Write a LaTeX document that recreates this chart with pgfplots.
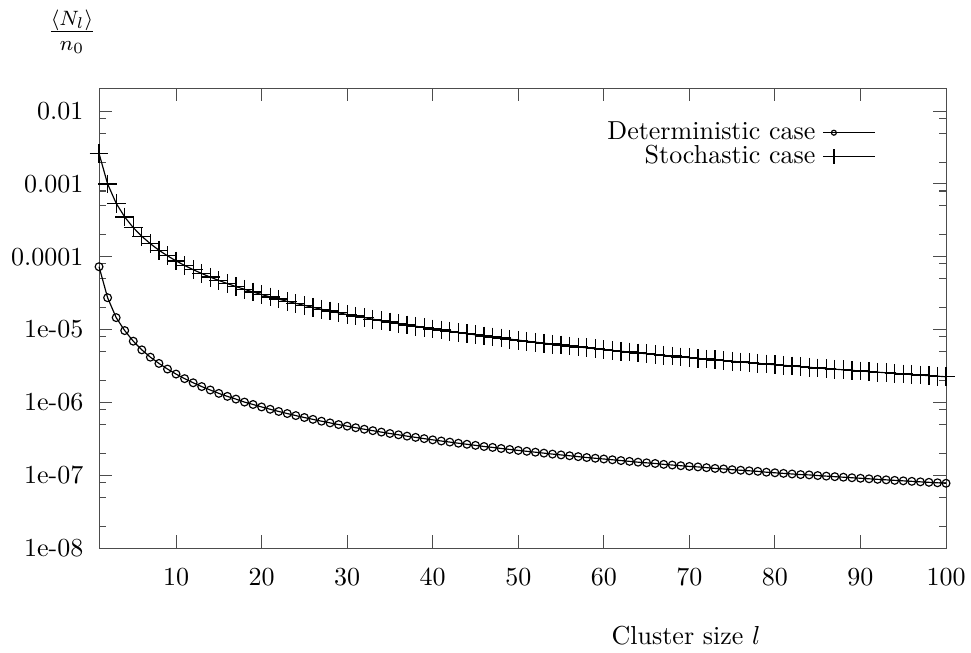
\documentclass[border=0pt]{standalone}
\usepackage{pgfplots}
\usepackage{pgfplotstable}
\pgfplotsset{compat=1.18}
\pgfplotsset{
  detleg/.style={legend image code/.code={\draw[##1,mark indices={2},mark size=0.95pt] plot coordinates {(0pt,0pt) (4pt,0pt) (20pt,0pt)};}},
  stoleg/.style={legend image code/.code={\draw[##1,mark indices={2},mark size=2.9pt] plot coordinates {(0pt,0pt) (4pt,0pt) (20pt,0pt)};}},
}
\pgfplotstableread{
l det sto
1 7.30e-5 2.62e-3
2 2.74e-5 1.00e-3
3 1.46e-5 5.43e-4
4 9.69e-6 3.52e-4
5 6.93e-6 2.51e-4
6 5.27e-6 1.91e-4
7 4.18e-6 1.51e-4
8 3.43e-6 1.23e-4
9 2.87e-6 1.03e-4
10 2.45e-6 8.78e-5
11 2.12e-6 7.60e-5
12 1.86e-6 6.65e-5
13 1.65e-6 5.89e-5
14 1.48e-6 5.25e-5
15 1.33e-6 4.73e-5
16 1.21e-6 4.28e-5
17 1.11e-6 3.90e-5
18 1.01e-6 3.57e-5
19 9.36e-7 3.28e-5
20 8.66e-7 3.03e-5
21 8.05e-7 2.81e-5
22 7.51e-7 2.62e-5
23 7.03e-7 2.44e-5
24 6.59e-7 2.29e-5
25 6.20e-7 2.15e-5
26 5.85e-7 2.02e-5
27 5.52e-7 1.90e-5
28 5.23e-7 1.80e-5
29 4.96e-7 1.70e-5
30 4.72e-7 1.61e-5
31 4.49e-7 1.53e-5
32 4.28e-7 1.46e-5
33 4.09e-7 1.39e-5
34 3.91e-7 1.32e-5
35 3.74e-7 1.27e-5
36 3.59e-7 1.21e-5
37 3.44e-7 1.16e-5
38 3.31e-7 1.11e-5
39 3.18e-7 1.07e-5
40 3.06e-7 1.02e-5
41 2.95e-7 9.84e-6
42 2.85e-7 9.47e-6
43 2.75e-7 9.12e-6
44 2.66e-7 8.79e-6
45 2.57e-7 8.48e-6
46 2.48e-7 8.18e-6
47 2.41e-7 7.90e-6
48 2.33e-7 7.64e-6
49 2.26e-7 7.39e-6
50 2.19e-7 7.15e-6
51 2.13e-7 6.93e-6
52 2.07e-7 6.71e-6
53 2.01e-7 6.51e-6
54 1.95e-7 6.31e-6
55 1.90e-7 6.13e-6
56 1.85e-7 5.95e-6
57 1.80e-7 5.78e-6
58 1.75e-7 5.62e-6
59 1.71e-7 5.46e-6
60 1.67e-7 5.31e-6
61 1.63e-7 5.17e-6
62 1.59e-7 5.04e-6
63 1.55e-7 4.91e-6
64 1.51e-7 4.78e-6
65 1.48e-7 4.66e-6
66 1.45e-7 4.54e-6
67 1.41e-7 4.43e-6
68 1.38e-7 4.32e-6
69 1.35e-7 4.22e-6
70 1.32e-7 4.12e-6
71 1.30e-7 4.02e-6
72 1.27e-7 3.93e-6
73 1.24e-7 3.84e-6
74 1.22e-7 3.76e-6
75 1.19e-7 3.67e-6
76 1.17e-7 3.59e-6
77 1.15e-7 3.51e-6
78 1.13e-7 3.44e-6
79 1.10e-7 3.36e-6
80 1.08e-7 3.29e-6
81 1.06e-7 3.23e-6
82 1.04e-7 3.16e-6
83 1.02e-7 3.10e-6
84 1.01e-7 3.03e-6
85 9.89e-8 2.97e-6
86 9.72e-8 2.91e-6
87 9.55e-8 2.86e-6
88 9.39e-8 2.80e-6
89 9.23e-8 2.75e-6
90 9.08e-8 2.70e-6
91 8.93e-8 2.65e-6
92 8.78e-8 2.60e-6
93 8.64e-8 2.55e-6
94 8.50e-8 2.50e-6
95 8.37e-8 2.46e-6
96 8.24e-8 2.41e-6
97 8.11e-8 2.37e-6
98 7.99e-8 2.33e-6
99 7.87e-8 2.29e-6
100 7.75e-8 2.25e-6
}\datatable
\begin{document}
\begin{tikzpicture}
\useasboundingbox (-38.1pt,-40pt) rectangle (335.4pt,210.8pt);
\begin{axis}[
  scale only axis, width=325.8pt, height=176.9pt,
  xmin=1, xmax=100, ymin=1e-8, ymax=0.0207,
  ymode=log,
  clip=false,
  axis line style={black!70},
  every tick/.style={black!70, line width=0.4pt},
  tick align=inside, tick pos=both,
  major tick length=5pt, minor tick length=2.7pt,
  xtick={10,20,...,100},
  ytick={1e-8,1e-7,1e-6,1e-5,1e-4,1e-3,1e-2},
  yticklabels={1e-08,1e-07,1e-06,1e-05,0.0001,0.001,0.01},
  minor ytick={2e-8,5e-8,8e-8,2e-7,5e-7,8e-7,2e-6,5e-6,8e-6,2e-5,5e-5,8e-5,2e-4,5e-4,8e-4,2e-3,5e-3,8e-3},
  xticklabel style={yshift=-4.3pt},
  yticklabel style={xshift=-2.5pt},
  every axis x label/.style={at={(rel axis cs:0.693,0)},anchor=center,yshift=-33.5pt},
  xlabel={Cluster size $l$},
  every axis y label/.style={at={(rel axis cs:0,1)},anchor=base,xshift=-10.4pt,yshift=18.65pt,font=\fontsize{12}{14}\selectfont},
  ylabel={$\frac{\langle N_l\rangle}{n_0}$},
  legend style={draw=none, fill=none, inner sep=0pt, at={(rel axis cs:0.918,0.93)}, anchor=north east, nodes={inner sep=0.4pt}, column sep=2.5pt},
  legend cell align=right,
  legend plot pos=right,
]
\addplot[black, line width=0.45pt, mark=o, mark size=1.5pt, mark options={line width=0.45pt}, detleg]
  table[x=l,y=det]{\datatable};
\addlegendentry{Deterministic case}
\addplot[black, line width=0.45pt, mark=+, mark size=3.6pt, mark options={line width=0.5pt}, stoleg]
  table[x=l,y=sto]{\datatable};
\addlegendentry{Stochastic case}
\end{axis}
\end{tikzpicture}
\end{document}
